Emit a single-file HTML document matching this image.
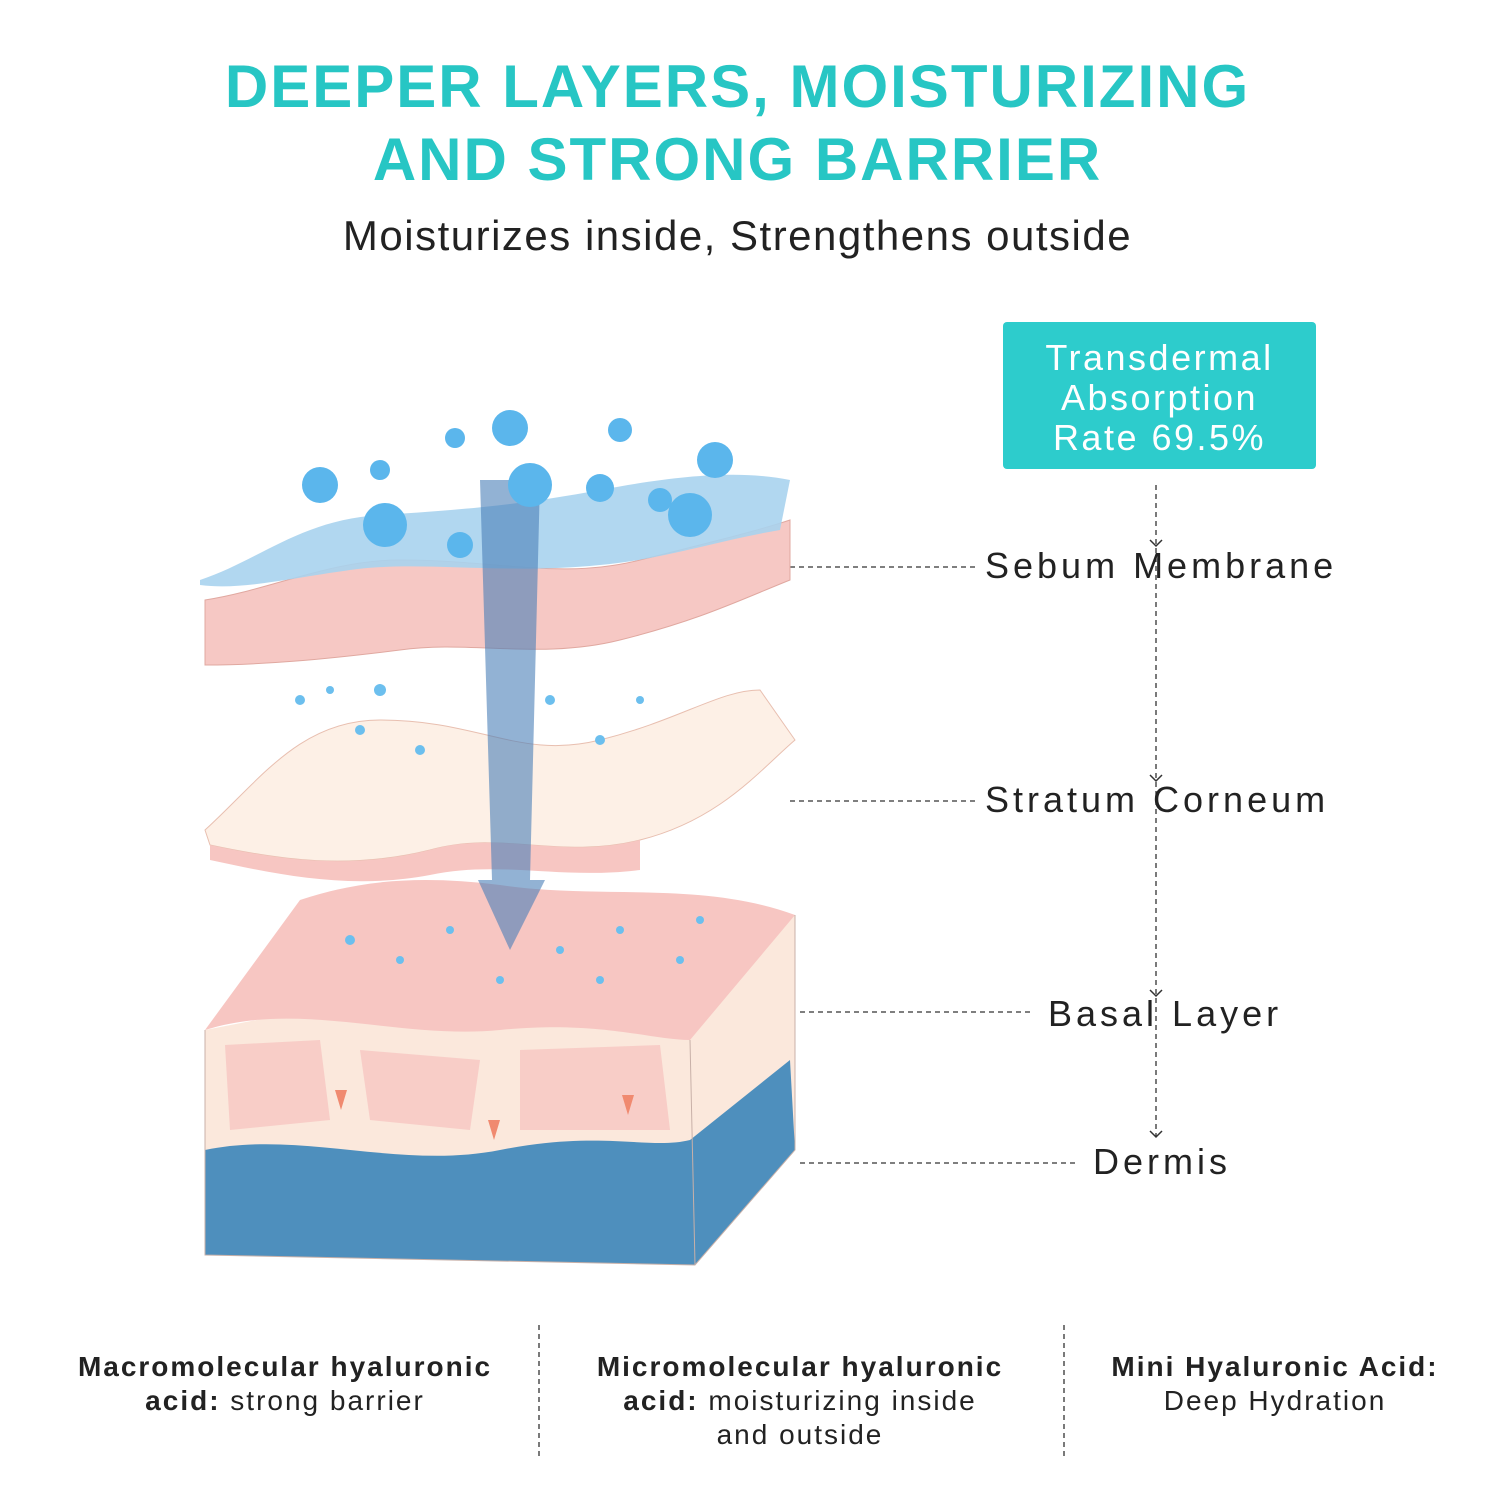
<!DOCTYPE html>
<html><head><style>
body{margin:0;width:1500px;height:1500px;background:#fff;position:relative;overflow:hidden;font-family:"Liberation Sans",sans-serif}
.t{position:absolute;left:0;width:1475px;text-align:center;color:#27c6c4;font-weight:bold;font-size:60px;letter-spacing:2px}
.lab{position:absolute;font-size:36px;color:#222;letter-spacing:4px;background:transparent}
.b{position:absolute;font-size:28px;color:#222;text-align:center;letter-spacing:2px;line-height:34px}
</style></head><body>
<div class="t" style="top:52px">DEEPER LAYERS, MOISTURIZING</div>
<div class="t" style="top:125px">AND STRONG BARRIER</div>
<div style="position:absolute;top:212px;left:0;width:1475px;text-align:center;font-size:42px;color:#222;letter-spacing:1.5px">Moisturizes inside, Strengthens outside</div>
<div style="position:absolute;left:1003px;top:322px;width:313px;height:147px;background:#2dcccc;border-radius:4px;color:#fff;font-size:36px;text-align:center;line-height:40px;padding-top:16px;box-sizing:border-box;letter-spacing:2.5px">Transdermal<br>Absorption<br>Rate 69.5%</div>
<svg width="1500" height="1500" style="position:absolute;left:0;top:0">
<g stroke="#333" stroke-width="1.3" stroke-dasharray="5,4" fill="none">
<line x1="1156" y1="485" x2="1156" y2="1136"/>
<line x1="790" y1="567" x2="975" y2="567"/>
<line x1="790" y1="801" x2="975" y2="801"/>
<line x1="800" y1="1012" x2="1030" y2="1012"/>
<line x1="800" y1="1163" x2="1075" y2="1163"/>
<line x1="539" y1="1325" x2="539" y2="1460"/>
<line x1="1064" y1="1325" x2="1064" y2="1460"/>
</g>
<g stroke="#333" stroke-width="1.5" fill="none">
<path d="M1150 540l6 6 6-6M1150 775l6 6 6-6M1150 990l6 6 6-6M1150 1131l6 6 6-6"/>
</g>
<path d="M205 1030 L205 1255 L695 1265 L795 1150 L795 915 Z" fill="#fbe8dc"/>
<path d="M205 1150 C300 1130 400 1170 500 1150 C600 1130 650 1150 690 1140 L790 1060 L795 1150 L695 1265 L205 1255Z" fill="#4e8fbd"/>
<path d="M205 1030 C300 1000 400 1040 500 1030 C600 1020 650 1040 690 1040 L795 915 C700 880 600 900 500 885 C420 875 360 880 300 900 Z" fill="#f7c6c2"/>
<path d="M225 1045 L320 1040 L330 1120 L230 1130Z M360 1050 L480 1060 L470 1130 L370 1120Z M520 1050 L660 1045 L670 1130 L520 1130Z" fill="#f7c6c2" opacity=".8"/>
<path d="M205 1030 L205 1255 L695 1265 L795 1150 L795 915 M690 1040 L695 1265" stroke="#c8b0a8" fill="none"/>
<path d="M205 830 C260 780 300 720 380 720 C480 720 520 760 600 740 C680 720 720 690 760 690 L795 740 C760 770 720 820 640 840 C560 860 500 830 430 850 C350 870 280 860 210 845Z" fill="#fdf0e6" stroke="#e8bfb0"/>
<path d="M210 845 C280 860 350 870 430 850 C500 830 560 860 640 840 L640 870 C560 880 500 860 430 875 C350 890 280 875 210 860Z" fill="#f7c6c2"/>
<path d="M205 600 C270 590 330 560 400 560 C500 560 560 580 640 560 C720 540 760 530 790 520 L790 580 C740 600 700 620 620 640 C540 660 470 640 400 650 C320 660 260 665 205 665Z" fill="#f6c8c4" stroke="#e0a8a0"/>
<path d="M200 580 C260 560 300 520 380 515 C460 510 520 505 600 490 C680 475 740 470 790 480 L780 530 C720 540 660 560 600 565 C500 575 420 560 350 570 C280 580 240 590 200 585Z" fill="#a9d3ee" opacity=".9"/>
<path d="M480 480 L540 480 L530 880 L545 880 L510 950 L478 880 L492 880Z" fill="#4a7fb8" opacity=".6"/>
<g fill="#5bb6ec">
<circle cx="510" cy="428" r="18"/><circle cx="530" cy="485" r="22"/><circle cx="385" cy="525" r="22"/><circle cx="690" cy="515" r="22"/><circle cx="320" cy="485" r="18"/><circle cx="600" cy="488" r="14"/><circle cx="715" cy="460" r="18"/><circle cx="620" cy="430" r="12"/><circle cx="460" cy="545" r="13"/><circle cx="455" cy="438" r="10"/><circle cx="660" cy="500" r="12"/><circle cx="380" cy="470" r="10"/>
</g>
<g fill="#6cbfee">
<circle cx="300" cy="700" r="5"/><circle cx="360" cy="730" r="5"/><circle cx="420" cy="750" r="5"/><circle cx="550" cy="700" r="5"/><circle cx="600" cy="740" r="5"/><circle cx="330" cy="690" r="4"/><circle cx="380" cy="690" r="6"/><circle cx="640" cy="700" r="4"/>
<circle cx="350" cy="940" r="5"/><circle cx="400" cy="960" r="4"/><circle cx="450" cy="930" r="4"/><circle cx="560" cy="950" r="4"/><circle cx="620" cy="930" r="4"/><circle cx="680" cy="960" r="4"/><circle cx="500" cy="980" r="4"/><circle cx="600" cy="980" r="4"/><circle cx="700" cy="920" r="4"/>
</g>
<g fill="#f08a70"><path d="M335 1090h12l-6 20z M488 1120h12l-6 20z M622 1095h12l-6 20z"/></g>
</svg>
<div class="lab" style="left:985px;top:545px">Sebum Membrane</div>
<div class="lab" style="left:985px;top:779px">Stratum Corneum</div>
<div class="lab" style="left:1048px;top:993px">Basal Layer</div>
<div class="lab" style="left:1093px;top:1141px">Dermis</div>
<div class="b" style="left:50px;width:470px;top:1350px"><b>Macromolecular hyaluronic acid:</b> strong barrier</div>
<div class="b" style="left:580px;width:440px;top:1350px"><b>Micromolecular hyaluronic acid:</b> moisturizing inside<br>and outside</div>
<div class="b" style="left:1080px;width:390px;top:1350px"><b>Mini Hyaluronic Acid:</b><br>Deep Hydration</div>
</body></html>
